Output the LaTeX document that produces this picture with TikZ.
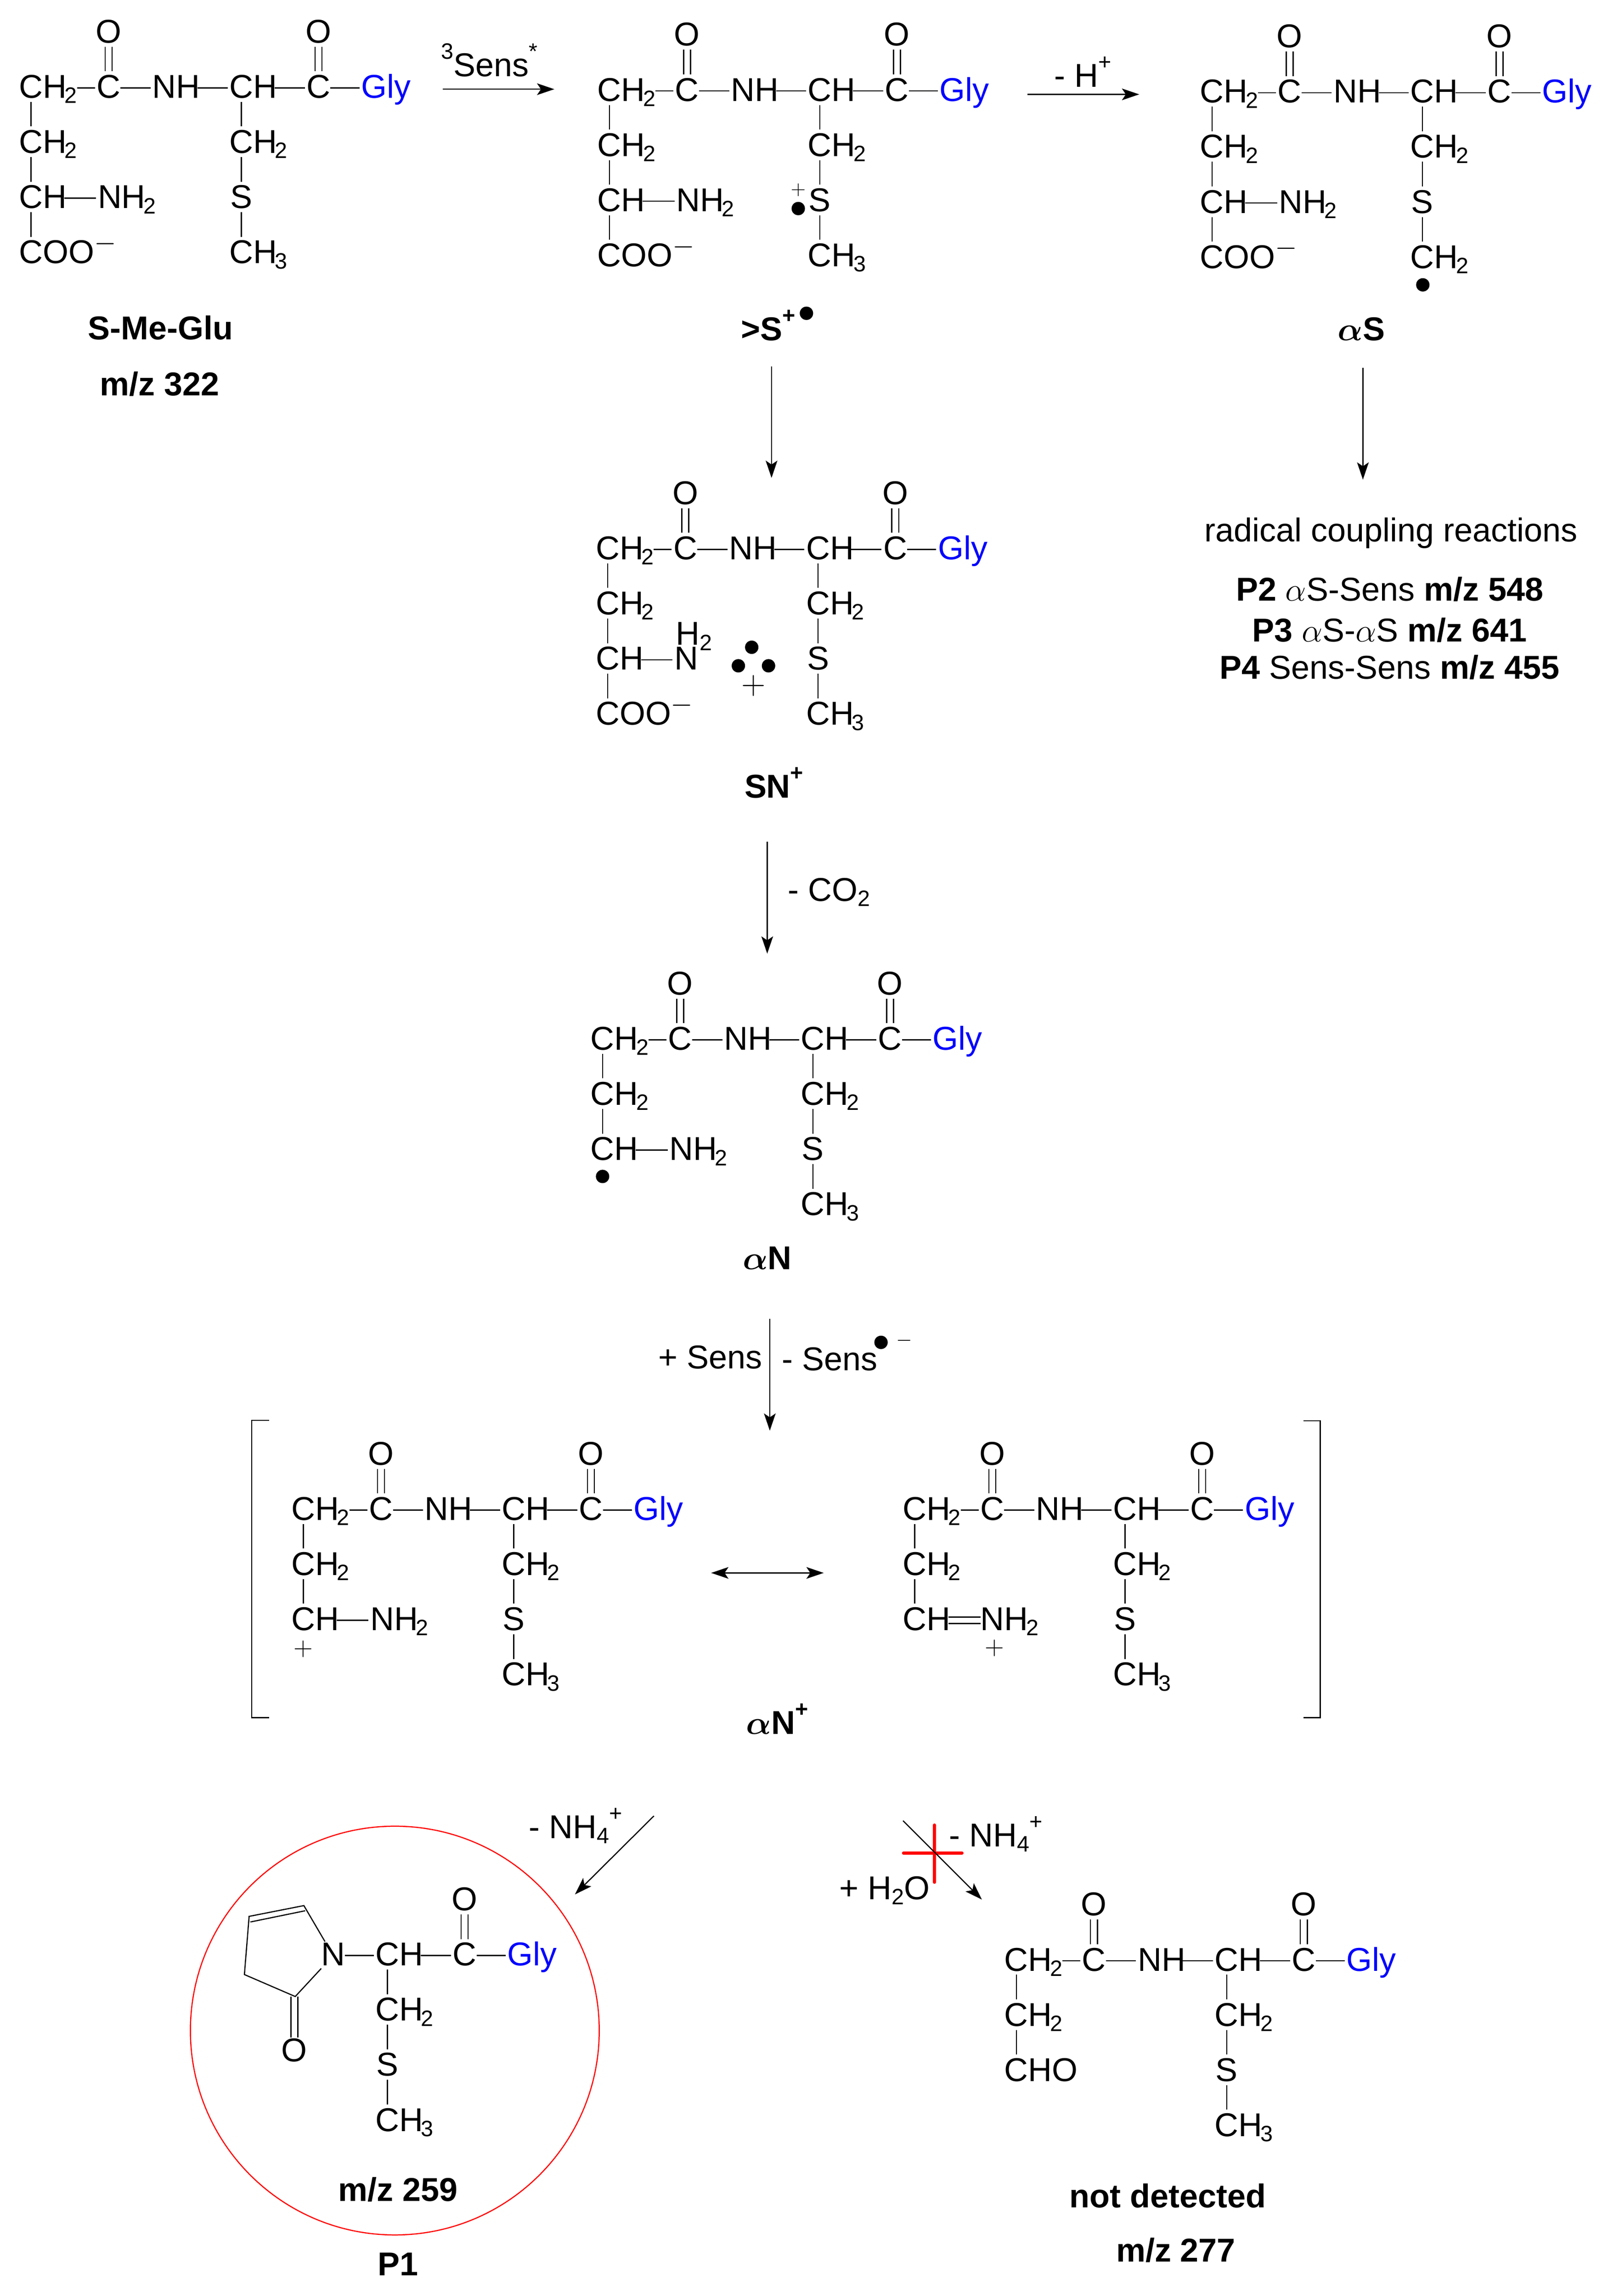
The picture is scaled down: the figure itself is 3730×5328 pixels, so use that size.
\documentclass[tikz,border=0pt]{standalone}
\usepackage{fix-cm}
\usepackage{amsmath}
\usepackage{fontspec}
\setmainfont{Liberation Sans}
\usepackage{tikz}
\usetikzlibrary{arrows.meta,positioning}

\newcommand{\lsub}[1]{\raisebox{-0.12cm}{\fontsize{14.7}{15}\selectfont #1}}
\newcommand{\subsc}[1]{\kern-0.05cm\lsub{#1}}
\newcommand{\supsc}[1]{\raisebox{0.4cm}{\fontsize{14.7}{15}\selectfont #1}}

\tikzset{
	atom/.style={inner sep=0pt,outer xsep=0pt,outer ysep=0.01cm,text height=0.55cm,text depth=0.08cm,font=\fontsize{21.8}{24}\selectfont},
	gly/.style={text=blue},
	vbond/.style={shorten >=0.06cm},
	dbond/.style={double,double distance=0.135cm,shorten >=0.06cm},
	hbond/.style={shorten >=0.04cm},
	chbond/.style={hbond,shorten <=-0.06cm},
	lab/.style={inner sep=0pt,font=\fontsize{21.8}{24}\selectfont},
	blab/.style={lab,font=\fontsize{21.8}{24}\selectfont\bfseries},
	charge/.style={inner sep=0pt,font=\fontsize{#1}{#1}\selectfont},
	charge/.default=18.6,
	radical/.style={circle,fill=black,inner sep=0pt,minimum size=0.31cm}
}

% CH, C(=O)Gly, CH2, S, CH2 or CH3
\newcommand{\cysarm}[4]{
	\node[atom] (#1cb) at (#2,#3) {C};
	\node[atom,right=0pt of #1cb] (#1hb) {H};
	\node[atom] (#1cg) at (#2+179,#3) {C};
	\node[atom] (#1og) at (#2+179,#3-128) {O};
	\node[atom,gly,anchor=west] (#1gly) at (#2+278,#3) {Gly};
	\node[atom] (#1cm) at (#2,#3+128) {C};
	\node[atom,right=0pt of #1cm] (#1hm) {H\subsc{2}};
	\node[atom] (#1s) at (#2,#3+256) {S};
	\node[atom] (#1ct) at (#2,#3+384) {C};
	\node[atom,right=0pt of #1ct] (#1ht) {H\subsc{#4}};
	\draw[chbond] (#1hb) -- (#1cg);
	\draw[hbond] (#1cg) -- (#1gly);
	\draw[dbond] (#1og) -- (#1cg);
	\draw[vbond] (#1cb) -- (#1cm);
	\draw[vbond] (#1cm) -- (#1s);
	\draw[vbond] (#1s) -- (#1ct);
}
% CH2, CH2, C(=O), NH and the CH of \cysarm
\newcommand{\peptide}[4]{
	\cysarm{#1}{#2+488}{#3}{#4}
	\node[atom] (#1ca) at (#2,#3) {C};
	\node[atom,right=0pt of #1ca] (#1ha) {H\subsc{2}};
	\node[atom] (#1cc) at (#2+180,#3) {C};
	\node[atom] (#1oc) at (#2+180,#3-128) {O};
	\node[atom] (#1nh) at (#2+337,#3) {NH};
	\node[atom] (#1cd) at (#2,#3+128) {C};
	\node[atom,right=0pt of #1cd] (#1hd) {H\subsc{2}};
	\draw[hbond] (#1ha) -- (#1cc);
	\draw[hbond] (#1cc) -- (#1nh);
	\draw[chbond] (#1nh) -- (#1cb);
	\draw[dbond] (#1oc) -- (#1cc);
	\draw[vbond] (#1ca) -- (#1cd);
}
\newcommand{\aminoch}[3]{
	\node[atom] (#1ce) at (#2,#3+256) {C};
	\node[atom,right=0pt of #1ce] (#1he) {H};
	\node[atom,anchor=west] (#1ne) at (#2+155,#3+256) {NH\subsc{2}};
	\draw[vbond] (#1cd) -- (#1ce);
	\draw[chbond] (#1he) -- (#1ne);
}
\newcommand{\carboxyl}[3]{
	\node[atom] (#1cf) at (#2,#3+384) {C};
	\node[atom,right=0pt of #1cf] (#1oo) {OO};
	\node[charge] (#1minus) at (#2+172,#3+362) {$-$};
	\draw[vbond] (#1ce) -- (#1cf);
}

\begin{document}
\begin{tikzpicture}[x=0.01cm,y=-0.01cm,line width=0.75pt,>={Stealth[length=0.4cm,width=0.27cm,inset=0.09cm]}]
	\useasboundingbox (0,0) rectangle (3730,5328);
	% top row
	\peptide{ma}{72}{204}{3}
	\aminoch{ma}{72}{204}
	\carboxyl{ma}{72}{204}
	\node[blab,anchor=base] (lma) at (372,788) {S-Me-Glu};
	\node[blab,anchor=base] (lmb) at (370,918) {m/z 322};
	\peptide{sc}{1414}{211}{3}
	\aminoch{sc}{1414}{211}
	\carboxyl{sc}{1414}{211}
	\node[charge=13] (scplus) at (1852,441) {$+$};
	\node[radical] (scdot) at (1852,484) {};
	\node[blab,anchor=base west] (lsc) at (1718,790) {>S\supsc{+}};
	\node[radical] (lscdot) at (1871,727) {};
	\peptide{as}{2812}{215}{2}
	\aminoch{as}{2812}{215}
	\carboxyl{as}{2812}{215}
	\node[radical] (asdot) at (3301,661) {};
	\node[blab,anchor=base] (las) at (3158,790) {$\boldsymbol{\alpha}$S};
	\node[lab,anchor=base west] (lsens) at (1022,177) {\supsc{3}Sens\supsc{*}};
	\node[lab,anchor=base west] (lh) at (2445,202) {- H\supsc{+}};
	\node[lab,anchor=base] (lrad) at (3227,1257) {radical coupling reactions};
	\node[lab,anchor=base] (lpb) at (3224,1394) {\textbf{P2} $\alpha$S-Sens \textbf{m/z 548}};
	\node[lab,anchor=base] (lpc) at (3224,1489) {\textbf{P3} $\alpha$S-$\alpha$S \textbf{m/z 641}};
	\node[lab,anchor=base] (lpd) at (3224,1576) {\textbf{P4} Sens-Sens \textbf{m/z 455}};
	% SN+
	\peptide{sn}{1410}{1275}{3}
	\node[atom] (snce) at (1410,1531) {C};
	\node[atom,right=0pt of snce] (snhe) {H};
	\node[atom] (snn) at (1592,1531) {N};
	\node[atom,text depth=0pt,outer ysep=0pt,anchor=south west] (snhn) at (1568,1497) {H\lsub{2}};
	\draw[vbond] (sncd) -- (snce);
	\draw[chbond] (snhe) -- (snn);
	\carboxyl{sn}{1410}{1275}
	\node[radical] (sndota) at (1744,1502) {};
	\node[radical] (sndotb) at (1713,1545) {};
	\node[radical] (sndotc) at (1783,1545) {};
	\node[charge=22] (snplus) at (1748,1591) {$+$};
	\node[blab,anchor=base west] (lsn) at (1726,1851) {SN\supsc{+}};
	\node[lab,anchor=base west] (lco) at (1827,2091) {- CO\lsub{2}};
	% alpha N
	\peptide{an}{1398}{2413}{3}
	\aminoch{an}{1398}{2413}
	\node[radical] (andot) at (1398,2730) {};
	\node[blab,anchor=base] (lan) at (1780,2946) {$\boldsymbol{\alpha}$N};
	\node[lab,anchor=base west] (lsa) at (1526,3176) {+ Sens};
	\node[lab,anchor=base west] (lsb) at (1813,3180) {- Sens};
	\node[radical] (lsbdot) at (2044,3115) {};
	\node[charge=13.5] (lsbminus) at (2098,3111) {$-$};
	% resonance pair
	\draw (624,3296) -| (584,3986) -- (624,3986);
	\draw (3024,3297) -| (3063,3986) -- (3024,3986);
	\peptide{rl}{704}{3504}{3}
	\aminoch{rl}{704}{3504}
	\node[charge=17.5] (rlplus) at (704,3827) {$+$};
	\peptide{rr}{2122}{3504}{3}
	\node[atom] (rrce) at (2122,3760) {C};
	\node[atom,right=0pt of rrce] (rrhe) {H};
	\node[atom,anchor=west] (rrne) at (2275,3760) {NH\subsc{2}};
	\draw[vbond] (rrcd) -- (rrce);
	\draw[double,double distance=0.125cm,shorten <=-0.05cm] (rrhe) -- (rrne);
	\node[charge=17.5] (rrplus) at (2307,3824) {$+$};
	\node[blab,anchor=base west] (lrr) at (1730,4024) {$\boldsymbol{\alpha}$N\supsc{+}};
	% P1
	\node[circle,draw=red,inner sep=0pt,minimum size=9.48cm] (pring) at (916,4712) {};
	\cysarm{pa}{899}{4538}{3}
	\node[atom] (pan) at (773,4538) {N};
	\node[atom] (pao) at (683,4760) {O};
	\coordinate (paa) at (705,4422);
	\coordinate (pab) at (578,4447);
	\coordinate (pac) at (567,4582);
	\coordinate (pad) at (685,4633);
	\coordinate (paai) at (708,4434);
	\coordinate (pabi) at (581,4460);
	\draw[hbond] (pan) -- (pacb);
	\draw[double,double distance=0.135cm] (pao) -- (pao |- pad);
	\draw (pan) -- (paa) -- (pab) -- (pac) -- (pad) -- (pan);
	\draw (paai) -- (pabi);
	\node[blab,anchor=base] (lpa) at (923,5108) {m/z 259};
	\node[blab,anchor=base] (lpb1) at (923,5281) {P1};
	\node[lab,anchor=base west] (lnl) at (1226,4266) {- NH\lsub{4}\supsc{+}};
	% not detected
	\peptide{nd}{2358}{4550}{3}
	\node[atom] (ndce) at (2358,4806) {C};
	\node[atom,right=0pt of ndce] (ndho) {HO};
	\draw[vbond] (ndcd) -- (ndce);
	\node[lab,anchor=base west] (lnr) at (2201,4285) {- NH\lsub{4}\supsc{+}};
	\node[lab,anchor=base west] (lwat) at (1946,4408) {+ H\lsub{2}O};
	\node[blab,anchor=base] (lnd) at (2709,5123) {not detected};
	\node[blab,anchor=base] (lne) at (2728,5249) {m/z 277};
	% red cross
	\coordinate (xa) at (2168,4235);
	\coordinate (xb) at (2168,4368);
	\coordinate (xc) at (2096,4300);
	\coordinate (xd) at (2232,4300);
	\draw[red,line width=0.07cm,line cap=round] (xa) -- (xb) (xc) -- (xd);
	% arrows
	\coordinate (ara) at (1027,207);
	\coordinate (arb) at (1286,207);
	\coordinate (arc) at (2384,219);
	\coordinate (ard) at (2643,219);
	\coordinate (are) at (1790,850);
	\coordinate (arf) at (1790,1109);
	\coordinate (arg) at (3162,854);
	\coordinate (arh) at (3162,1113);
	\coordinate (ari) at (1780,1953);
	\coordinate (arj) at (1780,2213);
	\coordinate (ark) at (1786,3060);
	\coordinate (arl) at (1786,3320);
	\coordinate (arm) at (1650,3650);
	\coordinate (arn) at (1911,3650);
	\coordinate (aro) at (1517,4214);
	\coordinate (arp) at (1334,4396);
	\coordinate (arq) at (2095,4225);
	\coordinate (arr) at (2278,4408);
	\path[->]
		(ara) edge (arb)
		(arc) edge (ard)
		(are) edge (arf)
		(arg) edge (arh)
		(ari) edge (arj)
		(ark) edge (arl)
		(aro) edge (arp)
		(arq) edge (arr);
	\draw[<->] (arm) -- (arn);
\end{tikzpicture}
\end{document}
